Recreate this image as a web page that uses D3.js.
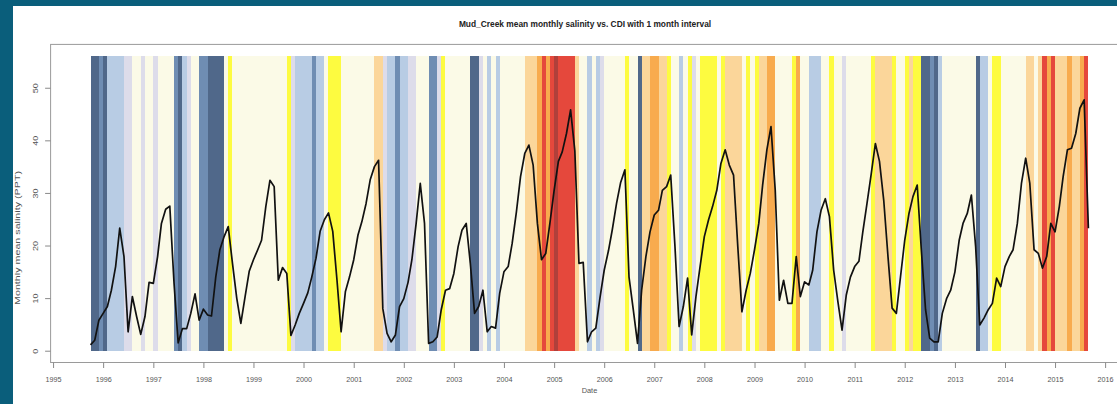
<!DOCTYPE html>
<html>
<head>
<meta charset="utf-8">
<script src="https://cdn.jsdelivr.net/npm/d3@7"></script>
<style>
html, body { margin: 0; padding: 0; background: #ffffff; }
svg { display: block; }
text { font-family: "Liberation Sans", Arial, sans-serif; }
</style>
</head>
<body>
<div id="GraphHolder"></div>
<script>
// monthly mean salinity (PPT), Oct 1995 .. Sep 2015
var salinity = [
  1.1, 2.0, 5.8, 7.1, 8.4, 11.5, 16, 23.3, 17.9, 3.6, 10.3, 6.5,
  3.1, 6.5, 13, 12.8, 17.9, 24.2, 26.9, 27.5, 12.8, 1.5, 4.2, 4.2,
  7.1, 10.8, 5.8, 7.9, 6.8, 6.6, 14, 19.2, 21.7, 23.6, 16.6, 10,
  5.2, 10.3, 15.1, 17.3, 19.2, 21.0, 27.4, 32.4, 31.2, 13.4, 15.8, 14.7,
  2.9, 4.9, 7.1, 9, 11, 14, 17.6, 22.7, 24.9, 26.2, 22.7, 13.4,
  3.6, 11.2, 14, 17.3, 22, 24.5, 28, 32.5, 35, 36.2, 8, 3.3,
  1.7, 3.0, 8.4, 9.9, 13, 17.3, 24.2, 31.8, 24.2, 1.4, 1.7, 2.6,
  7.8, 11.5, 11.8, 14.7, 19.8, 22.9, 24.2, 16.6, 7.1, 8.4, 11.5, 3.6,
  4.6, 4.3, 10.9, 15, 16, 20.4, 26.4, 33.1, 37.5, 39.1, 35.3, 24.2,
  17.3, 18.5, 24.2, 30.5, 36, 37.8, 41.3, 45.8, 38, 16.6, 16.8, 1.7,
  3.6, 4.3, 10, 15.3, 19, 23, 28, 32, 34.4, 14, 7.8, 1.4,
  11.5, 17.9, 22.6, 25.8, 26.7, 30.5, 31.2, 33.4, 19.8, 4.6, 8.4, 13.8,
  3.0, 10.3, 16, 21.7, 24.9, 27.4, 30.5, 35.6, 38.2, 35.3, 33.4, 19.8,
  7.4, 11.5, 14.7, 19.2, 24.2, 31.5, 38.2, 42.6, 30.5, 9.6, 13.4, 9,
  9, 17.9, 10.3, 13.1, 12.5, 15.3, 22.6, 26.7, 28.9, 25.5, 15.3, 9.3,
  3.9, 10.6, 14, 16, 17, 22.5, 28, 33.5, 39.4, 36, 28.6, 17.9,
  8.1, 7.1, 14, 21, 26.1, 29.3, 31.5, 19.2, 7.8, 2.4, 1.7, 1.7,
  7.1, 9.9, 11.5, 15, 21, 24.2, 26.1, 29.6, 19.8, 4.9, 6.2, 7.8,
  9, 13.8, 12.2, 16, 17.9, 19.2, 24.2, 31.8, 36.6, 31.8, 19.2, 18.5,
  15.7, 17.9, 24.2, 22.6, 27.4, 33.1, 38.2, 38.5, 41.3, 46.1, 47.7, 23.3
];

// CDI class for each monthly interval (-4 very wet .. 5 extreme dry)
var cdi = [
  -4, -4, -3, -4, -2, -2, -2, -2, -1, -1, 0, 0,
  -1, 0, 0, -1, 0, 0, 0, 0, -3, -4, -2, -1,
  0, 0, -3, -3, -4, -4, -4, -4, 0, 1, 0, 0,
  0, 0, 0, 0, 0, 0, 0, 0, 0, 0, 0, 1,
  -1, -2, -2, -2, -2, -3, -2, -2, 0, 1, 1, 1,
  0, 0, 0, 0, 0, 0, 0, 0, 2, 2, -1, -2,
  -2, -3, -2, -2, -1, -1, 0, 0, 0, -3, -3, -1,
  1, 0, 0, 0, 0, 0, 0, -4, -4, -1, 0, -2,
  0, -2, 0, 0, 0, 0, 0, 0, 2, 2, 2, 3,
  4, 3, 4, 5, 4, 4, 4, 4, 2, 0, 0, -2,
  0, -2, -1, 0, 0, 0, 0, 0, 1, 0, 0, -4,
  2, 2, 3, 3, 2, 2, 1, 0, 0, -2, 0, 1,
  -1, 0, 1, 1, 1, 1, 0, 1, 2, 2, 2, 2,
  0, 1, 0, 1, 2, 2, 3, 3, 0, 0, 0, 0,
  1, 3, 0, 0, -2, -2, -2, 0, 0, 1, 0, 0,
  -1, 0, 0, 0, 0, 0, 0, 1, 2, 2, 2, 2,
  1, 0, 0, 1, 2, 1, 1, -4, -4, -3, -4, -2,
  0, 0, 0, 0, 0, 0, 0, 0, -4, -2, -2, 0,
  1, 1, 0, 0, 0, 0, 0, 0, 2, 2, 0, 2,
  4, 3, 4, 2, 2, 2, 3, 2, 2, 3, 4
];

var cdiClasses = [-4, -3, -2, -1, 0, 1, 2, 3, 4, 5];
var cdiColors = ["#50688a", "#6f8db3", "#b8cce4", "#dddcea", "#fbfae7",
                 "#fdfb40", "#fbd69a", "#f8ab4e", "#e5483c", "#b0403b"];

var yTicks = [0, 10, 20, 30, 40, 50];
var yearTicks = [1995, 1996, 1997, 1998, 1999, 2000, 2001, 2002, 2003, 2004, 2005,
                 2006, 2007, 2008, 2009, 2010, 2011, 2012, 2013, 2014, 2015, 2016];
var bandTop = 56;

// month dates of the series
var months = d3.utcMonth.range(new Date(Date.UTC(1995, 9, 1)), new Date(Date.UTC(2015, 9, 1)));
var data = months.map(function(d, i) { return {date: d, v: salinity[i]}; });

var W = 1117, H = 404;
var plot = {left: 50.6, right: 1128.3, top: 44.4, bottom: 362.5};

var svg = d3.select("#GraphHolder").append("svg")
    .attr("width", W)
    .attr("height", H);

// teal frame, white panel
svg.append("rect").attr("width", W).attr("height", H).attr("fill", "#0a5e7b");
svg.append("rect").attr("x", 13).attr("y", 6).attr("width", W - 13).attr("height", H - 6).attr("fill", "#ffffff");

// scales with R-style 4% padding
var first = months[0], last = months[months.length - 1];
var pad = (last - first) * 0.04;
var x = d3.scaleUtc()
    .domain([new Date(+first - pad), new Date(+last + pad)])
    .range([plot.left, plot.right]);
var y = d3.scaleLinear()
    .domain([-bandTop * 0.04, bandTop * 1.04])
    .range([plot.bottom, plot.top]);
var color = d3.scaleOrdinal().domain(cdiClasses).range(cdiColors);

// CDI bands between consecutive months
svg.append("g")
    .attr("class", "bands")
    .attr("shape-rendering", "crispEdges")
    .selectAll("rect")
    .data(cdi)
    .enter().append("rect")
    .attr("x", function(d, i) { return x(months[i]); })
    .attr("width", function(d, i) { return x(months[i + 1]) - x(months[i]); })
    .attr("y", y(bandTop))
    .attr("height", y(0) - y(bandTop))
    .attr("fill", function(d) { return color(d); });

// salinity line
svg.append("path")
    .datum(data)
    .attr("fill", "none")
    .attr("stroke", "#111111")
    .attr("stroke-width", 1.7)
    .attr("stroke-linejoin", "round")
    .attr("d", d3.line()
        .x(function(d) { return x(d.date); })
        .y(function(d) { return y(d.v); }));

// plot box
svg.append("rect")
    .attr("x", plot.left)
    .attr("y", plot.top)
    .attr("width", plot.right - plot.left)
    .attr("height", plot.bottom - plot.top)
    .attr("fill", "none")
    .attr("stroke", "#9a9a9a")
    .attr("stroke-width", 1);

// x axis
var xAxis = d3.axisBottom(x)
    .tickValues(yearTicks.map(function(yr) { return new Date(Date.UTC(yr, 0, 1)); }))
    .tickFormat(d3.utcFormat("%Y"))
    .tickSize(5.5)
    .tickSizeOuter(0);
var gx = svg.append("g")
    .attr("class", "xaxis")
    .attr("transform", "translate(0," + plot.bottom + ")")
    .call(xAxis);
gx.select(".domain").remove();
gx.selectAll("line").attr("stroke", "#8a8a8a");
gx.selectAll("text")
    .attr("y", 19.5)
    .attr("dy", 0)
    .attr("fill", "#555555")
    .style("font-size", "7.2px");

// y axis (labels stretched along their direction, like the source image)
var yAxis = d3.axisLeft(y)
    .tickValues(yTicks)
    .tickSize(5.5)
    .tickSizeOuter(0);
var gy = svg.append("g")
    .attr("class", "yaxis")
    .attr("transform", "translate(" + plot.left + ",0)")
    .call(yAxis);
gy.select(".domain").remove();
gy.selectAll("line").attr("stroke", "#8a8a8a");
gy.selectAll("text")
    .attr("transform", "rotate(-90) scale(1.25,1)")
    .attr("x", 0)
    .attr("y", -13)
    .attr("dy", 0)
    .attr("text-anchor", "middle")
    .attr("fill", "#555555")
    .style("font-size", "7.2px");

// title and axis labels
var mid = (plot.left + plot.right) / 2;
svg.append("text")
    .attr("x", 585)
    .attr("y", 27)
    .attr("text-anchor", "middle")
    .style("font-size", "8.4px")
    .style("font-weight", "bold")
    .attr("fill", "#222222")
    .text("Mud_Creek mean monthly salinity vs. CDI with 1 month interval");

svg.append("text")
    .attr("x", mid)
    .attr("y", 393)
    .attr("text-anchor", "middle")
    .style("font-size", "7.4px")
    .attr("fill", "#555555")
    .text("Date");

svg.append("text")
    .attr("transform", "translate(20,238) rotate(-90) scale(1.45,1)")
    .attr("text-anchor", "middle")
    .style("font-size", "7.4px")
    .attr("fill", "#555555")
    .text("Monthly mean salinity (PPT)");
</script>
</body>
</html>
